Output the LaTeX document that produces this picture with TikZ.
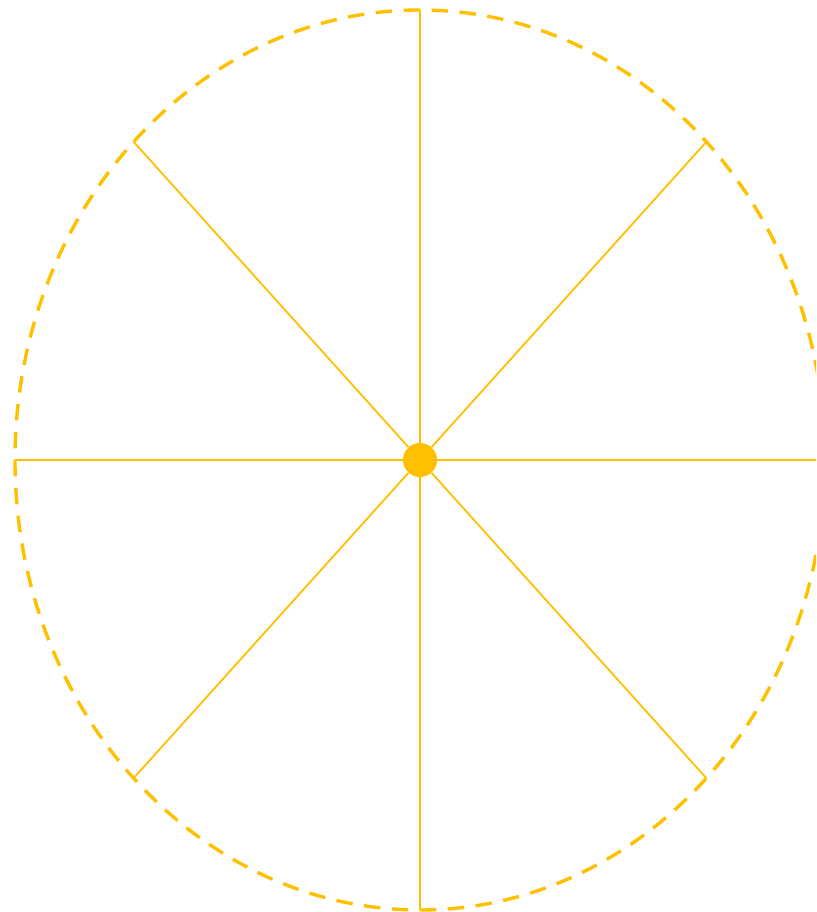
\documentclass[tikz,border=0pt]{standalone}
\usepackage{xcolor}
\usepackage{tikz}
\usetikzlibrary{positioning}
\definecolor{amber}{RGB}{255,192,0}

\begin{document}
\begin{tikzpicture}[
    x=1pt, y=1pt,
    rim/.style={draw=amber,line width=3.4pt,dash pattern=on 16.5pt off 11.5pt},
    spoke/.style={draw=amber,line width=1.8pt},
    hub/.style={circle,fill=amber,inner sep=0pt,minimum size=34pt}]
  \clip (0,0) rectangle (816,912);

  % ---- the dashed rim ----
  \draw[rim] (420,452) ellipse [x radius=405pt, y radius=450pt];

  % ---- hub and the eight spoke ends on the rim ----
  \node[hub] (hub) at (420,452) {};
  \foreach \a in {0,45,...,315}
    \coordinate (e\a) at ({420+405*cos(\a)},{452+450*sin(\a)});

  \foreach \a in {0,45,...,315}
    \draw[spoke] (hub) -- (e\a);
\end{tikzpicture}
\end{document}
